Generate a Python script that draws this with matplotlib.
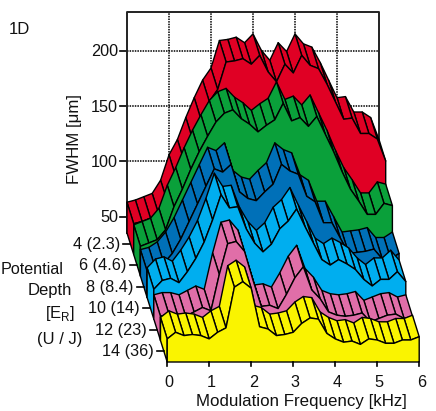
import matplotlib
matplotlib.use("Agg")
import matplotlib.pyplot as plt
from matplotlib.patches import Polygon

plt.rcParams['font.family'] = ['Liberation Sans', 'DejaVu Sans']
plt.rcParams['mathtext.fontset'] = 'custom'
plt.rcParams['mathtext.rm'] = 'Liberation Sans'

freq = [0.2 * i for i in range(31)]
depth_labels = ["4 (2.3)", "6 (4.6)", "8 (8.4)", "10 (14)", "12 (23)", "14 (36)"]
fwhm_ticks = [50, 100, 150, 200]
freq_ticks = [0, 1, 2, 3, 4, 5, 6]

d4 = [63, 65, 68, 71, 83, 106, 120, 140, 158, 174, 185, 210, 211, 213, 208, 216, 201, 192, 208, 200, 216, 207, 204, 190, 174, 158, 159, 145, 145, 140, 120]
d6 = [62, 65, 68, 77, 98, 114, 132, 148, 162, 175, 183, 186, 178, 173, 166, 172, 177, 192, 176, 179, 171, 180, 164, 148, 130, 114, 103, 91, 91, 101, 99]
d8 = [59, 61, 66, 75, 88, 104, 120, 136, 152, 149, 156, 131, 125, 123, 131, 138, 156, 150, 147, 127, 122, 103, 103, 89, 75, 76, 77, 79, 70, 70, 75]
d10 = [62, 70, 72, 68, 78, 90, 105, 125, 148, 136, 137, 117, 104, 96, 103, 117, 124, 135, 119, 104, 89, 84, 89, 85, 80, 71, 65, 71, 71, 78, 69]
d12 = [57, 59, 59, 57, 61, 65, 62, 95, 123, 125, 116, 90, 66, 67, 64, 77, 92, 102, 81, 73, 61, 58, 57, 58, 60, 52, 55, 58, 59, 55, 57]
d14 = [56, 62, 59, 60, 59, 56, 62, 66, 103, 108, 102, 67, 65, 59, 60, 62, 70, 75, 74, 61, 56, 53, 54, 51, 56, 55, 52, 52, 55, 55, 58]

series = [d4, d6, d8, d10, d12, d14]
colors = ["#E00024", "#0AA03A", "#0070B8", "#00AEEF", "#E06EA8", "#FAF400"]

# oblique projection of (frequency, depth step, FWHM) onto the picture
X0, Y0, XS, DX, DY, ZS, Z0 = 127.0, 233.0, 42.0, 6.7, 21.5, 1.1, 35.0

def proj(f, d, z):
    return (X0 + XS * f + DX * d, Y0 + DY * d - ZS * (z - Z0))

fig = plt.figure(figsize=(4.36, 4.11), dpi=100)
ax = fig.add_axes([0, 0, 1, 1])
ax.set_xlim(0, 436)
ax.set_ylim(411, 0)
ax.axis("off")

TXT = "#111111"
ZTOP = Z0 + (Y0 - 12) / ZS
# back wall
for f in freq_ticks[1:-1]:
    ax.plot(*zip(proj(f, 0, Z0), proj(f, 0, ZTOP)), color="k", lw=1.1, ls=(0, (1, 0.7)), zorder=1)
for z in fwhm_ticks:
    ax.plot(*zip(proj(0, 0, z), proj(6, 0, z)), color="k", lw=1.1, ls=(0, (1, 0.7)), zorder=1)
    x, y = proj(0, 0, z)
    ax.plot([x - 7, x], [y, y], color="k", lw=1.2, zorder=1)
    ax.text(x - 9, y + 0.5, str(z), ha="right", va="center", fontsize=11.7, color=TXT)
wall = [proj(0, 0, Z0), proj(0, 0, ZTOP), proj(6, 0, ZTOP), proj(6, 0, Z0)]
ax.plot(*zip(*wall), color="#222222", lw=1.4, zorder=1)

# ribbons, back series first
zo = 2
for k, (vals, col) in enumerate(zip(series, colors)):
    poly_kw = dict(facecolor=col, edgecolor="k", lw=1.0, joinstyle="round")
    for i in range(len(freq) - 2, -1, -1):
        quad = [proj(freq[i], k, vals[i]), proj(freq[i + 1], k, vals[i + 1]),
                proj(freq[i + 1], k + 1, vals[i + 1]), proj(freq[i], k + 1, vals[i])]
        ax.add_patch(Polygon(quad, zorder=zo, **poly_kw))
    side = [proj(0, k, vals[0]), proj(0, k + 1, vals[0]), proj(0, k + 1, Z0), proj(0, k, Z0)]
    ax.add_patch(Polygon(side, zorder=zo, **poly_kw))
    face = [proj(f, k + 1, v) for f, v in zip(freq, vals)]
    face += [proj(6, k + 1, Z0), proj(0, k + 1, Z0)]
    ax.add_patch(Polygon(face, zorder=zo + 0.5, **poly_kw))
    zo += 1

# depth axis ticks
for k, lab in enumerate(depth_labels):
    x, y = proj(0, k + 0.5, Z0)
    ax.plot([x - 7, x], [y, y], color="k", lw=1.2, zorder=20)
    ax.text(x - 10.5, y + 0.5, lab, ha="right", va="center", fontsize=11.7, color=TXT)

# frequency axis ticks
for f in freq_ticks:
    x, y = proj(f, 6, Z0)
    ax.plot([x, x], [y, y + 4], color="k", lw=1.2, zorder=20)
    ax.text(x + 2, y + 20, str(f), ha="center", va="center", fontsize=11.7, color=TXT)

ax.text(301.5, 401, "Modulation Frequency [kHz]", ha="center", va="center", fontsize=12.2, color=TXT)
ax.text(74, 138.5, "FWHM [μm]", rotation=90, ha="center", va="center", fontsize=12.2, color=TXT)
ax.text(9, 29, "1D", ha="left", va="center", fontsize=12, color=TXT)
ax.text(64, 269, "Potential", ha="right", va="center", fontsize=11.6, color=TXT)
ax.text(72, 290, "Depth", ha="right", va="center", fontsize=12, color=TXT)
ax.text(75, 313, r"[E$_{\mathrm{R}}$]", ha="right", va="center", fontsize=12, color=TXT)
ax.text(82, 339, "(U / J)", ha="right", va="center", fontsize=12, color=TXT)

fig.savefig("out.png", dpi=100)
